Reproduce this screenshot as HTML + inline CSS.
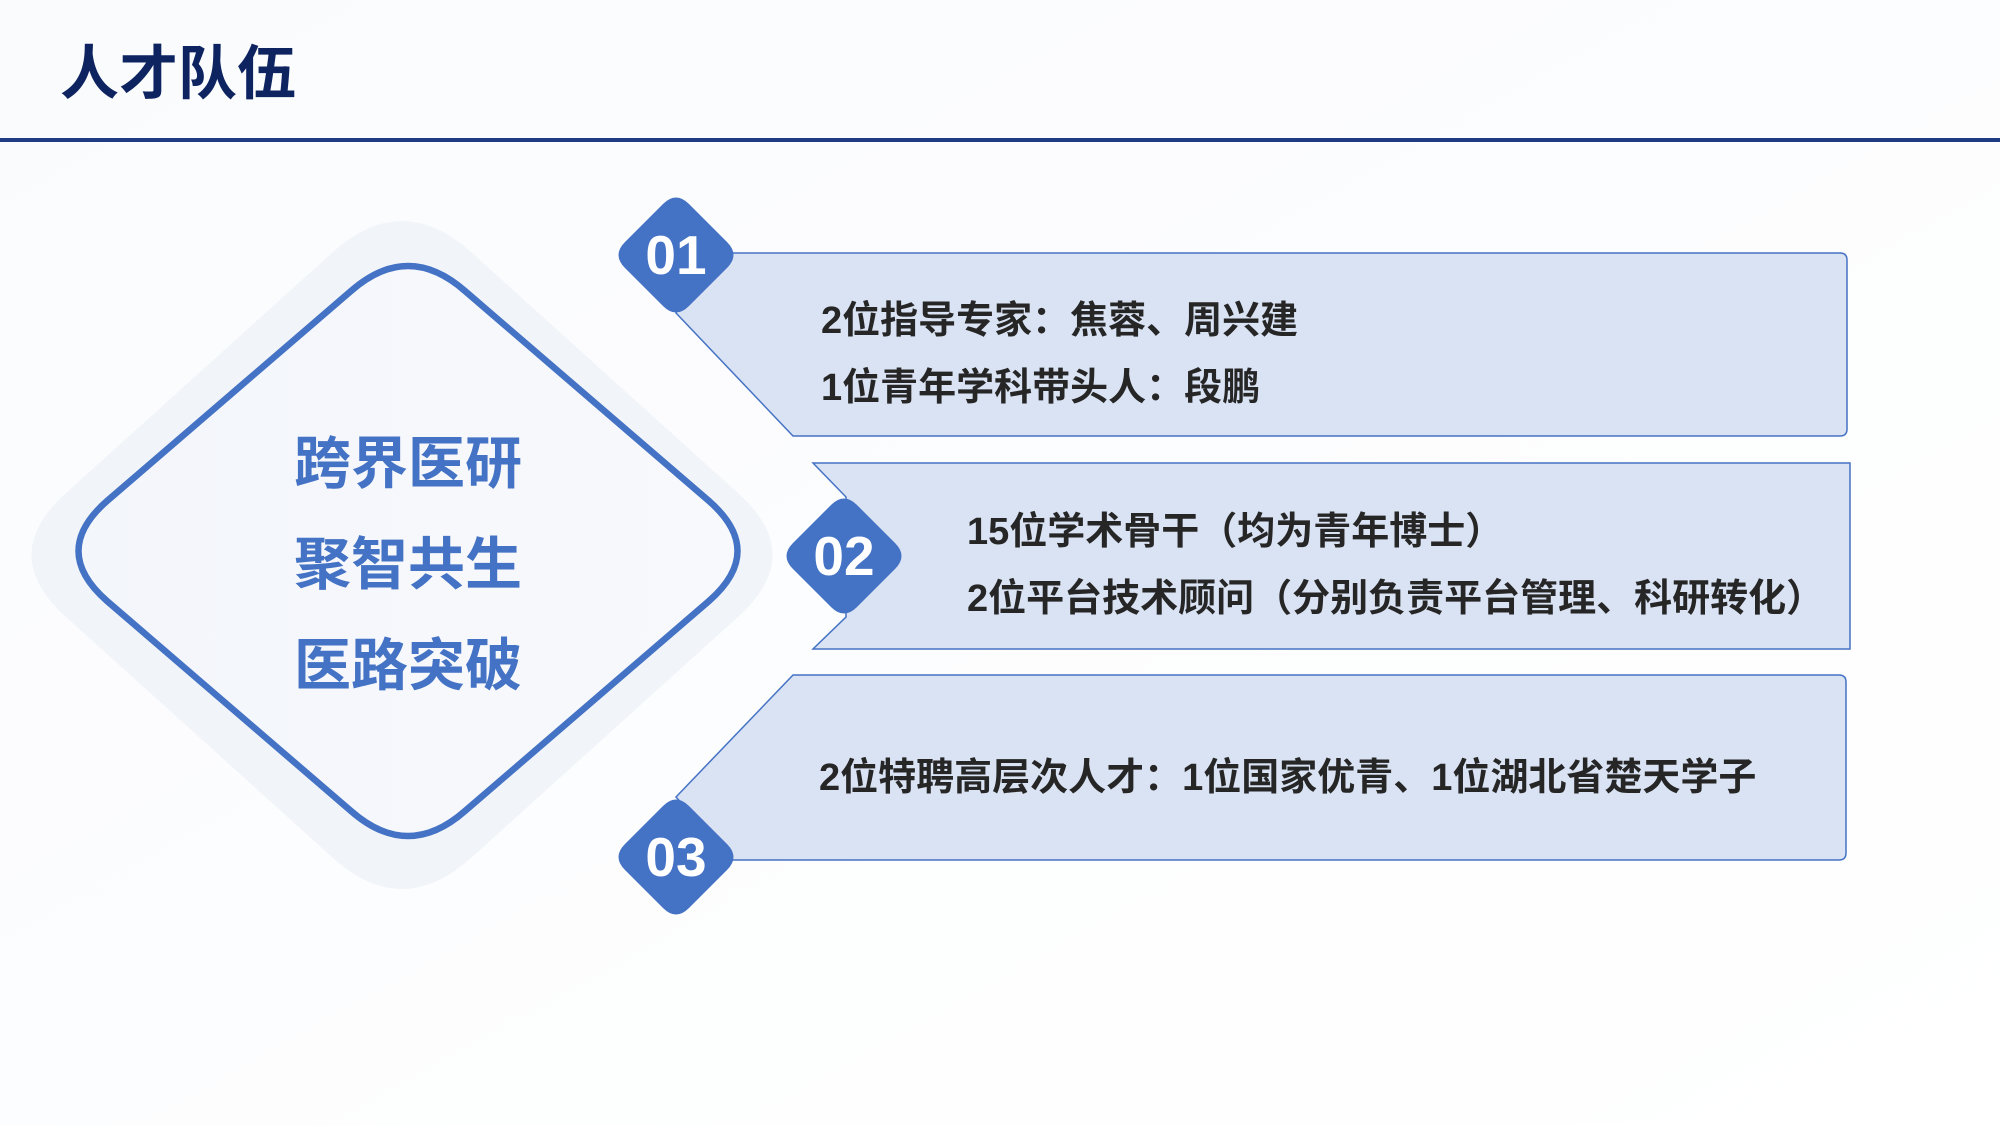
<!DOCTYPE html>
<html><head><meta charset="utf-8"><style>
html,body{margin:0;padding:0;background:#fff;}
svg{display:block;}
text{font-family:"Liberation Sans","Noto Sans CJK SC",sans-serif;font-weight:bold;}
</style></head><body>
<svg width="2000" height="1125" viewBox="0 0 2000 1125" xmlns="http://www.w3.org/2000/svg">
<defs>
<linearGradient id="bg" x1="0" y1="0" x2="1" y2="1"><stop offset="0" stop-color="#fafbfd"/><stop offset="1" stop-color="#ffffff"/></linearGradient>
<linearGradient id="inner" x1="0" y1="0" x2="1" y2="0"><stop offset="0" stop-color="#f3f6fb"/><stop offset="1" stop-color="#f8f9fc"/></linearGradient>
<path id="dm" d="M13,-51 L51,-13 Q64,0 51,13 L13,51 Q0,64 -13,51 L-51,13 Q-64,0 -51,-13 L-13,-51 Q0,-64 13,-51Z"/>
</defs>
<rect width="2000" height="1125" fill="url(#bg)"/>
<text x="60" y="94" font-size="59" fill="#0e2461">人才队伍</text>
<rect x="0" y="138" width="2000" height="4" fill="#1f3b82"/>

<path d="M471,252 L738,493 Q807,555 738,617 L471,858 Q402,920 333,858 L66,617 Q-3,555 66,493 L333,252 Q402,190 471,252Z" fill="#f1f4f9"/>
<path d="M465,291 L709,501 Q766,551 709,601 L465,811 Q408,861 351,811 L107,601 Q50,551 107,501 L351,291 Q408,241 465,291Z" fill="url(#inner)" stroke="#4472c4" stroke-width="6.5"/>
<g font-size="57" fill="#4472c4" text-anchor="middle">
<text x="408" y="483">跨界医研</text>
<text x="408" y="584">聚智共生</text>
<text x="408" y="685">医路突破</text>
</g>

<path d="M700,253 L1840,253 Q1847,253 1847,260 L1847,429 Q1847,436 1840,436 L793,436 L676,313 Z" fill="#dae3f3" stroke="#4472c4" stroke-width="1.5"/>
<path d="M813,463 L1850,463 L1850,649 L813,649 L846,617 L846,497 Z" fill="#dae3f3" stroke="#4472c4" stroke-width="1.5"/>
<path d="M793,675 L1839,675 Q1846,675 1846,682 L1846,853 Q1846,860 1839,860 L733,860 L676,797 Z" fill="#dae3f3" stroke="#4472c4" stroke-width="1.5"/>

<use href="#dm" transform="translate(676,255)" fill="#4472c4"/>
<use href="#dm" transform="translate(844,556)" fill="#4472c4"/>
<use href="#dm" transform="translate(676,857)" fill="#4472c4"/>
<g font-size="55" fill="#fff" text-anchor="middle">
<text x="676" y="274">01</text>
<text x="844" y="575">02</text>
<text x="676" y="876">03</text>
</g>

<g font-size="38" fill="#262626">
<text x="821" y="333">2位指导专家：焦蓉、周兴建</text>
<text x="821" y="400">1位青年学科带头人：段鹏</text>
<text x="967" y="544">15位学术骨干（均为青年博士）</text>
<text x="967" y="611">2位平台技术顾问（分别负责平台管理、科研转化）</text>
<text x="819" y="790">2位特聘高层次人才：1位国家优青、1位湖北省楚天学子</text>
</g>
</svg>
</body></html>
